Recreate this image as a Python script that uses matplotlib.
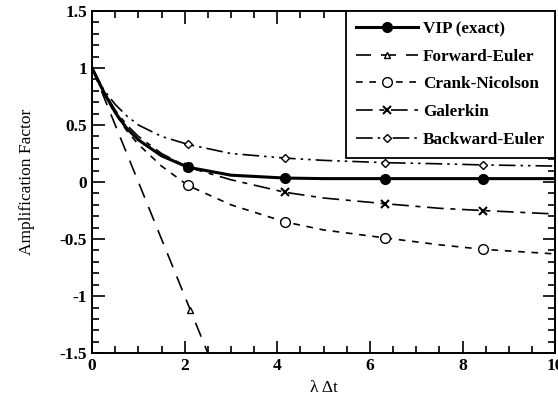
import matplotlib
matplotlib.use("Agg")
import matplotlib.pyplot as plt
from matplotlib.ticker import MultipleLocator

plt.rcParams['font.family'] = ['Liberation Serif', 'DejaVu Serif']
plt.rcParams['font.weight'] = 'bold'

# Amplification factor vs. lambda*dt for each time integrator
x_vip = [0, 0.25, 0.5, 0.75, 1.0, 1.5, 2.07, 3.0, 4.17, 5.0, 6.33, 7.5, 8.45, 10]
y_vip = [1.0, 0.79, 0.61, 0.47, 0.37, 0.23, 0.13, 0.06, 0.035, 0.03, 0.03, 0.03, 0.03, 0.03]

x_fe = [0, 2.12, 2.5]
y_fe = [1.0, -1.12, -1.5]

x_cn = [0, 0.25, 0.5, 0.75, 1.0, 1.5, 2.07, 3.0, 4.17, 5.0, 6.33, 7.5, 8.45, 10]
y_cn = [1.0, 0.78, 0.6, 0.45, 0.33, 0.14, -0.03, -0.2, -0.35, -0.42, -0.49, -0.55, -0.59, -0.63]

x_gal = [0, 0.25, 0.5, 0.75, 1.0, 1.5, 2.07, 3.0, 4.17, 5.0, 6.33, 7.5, 8.45, 10]
y_gal = [1.0, 0.8, 0.63, 0.5, 0.4, 0.25, 0.13, 0.02, -0.09, -0.14, -0.19, -0.23, -0.25, -0.28]

x_be = [0, 0.25, 0.5, 0.75, 1.0, 1.5, 2.07, 3.0, 4.17, 5.0, 6.33, 7.5, 8.45, 10]
y_be = [1.0, 0.81, 0.68, 0.58, 0.5, 0.4, 0.33, 0.25, 0.21, 0.19, 0.17, 0.16, 0.15, 0.14]

marks = [6, 8, 10, 12]

fig = plt.figure(figsize=(5.58, 4.05), dpi=100)
ax = fig.add_axes([0.165, 0.128, 0.83, 0.845])

ax.plot(x_vip, y_vip, color='black', lw=2.2, marker='o', ms=7, markevery=marks,
        label='VIP (exact)')
ax.plot(x_fe, y_fe, color='black', lw=1.2, dashes=(9, 6), marker='^', ms=5,
        mfc='white', markevery=[1], label='Forward-Euler')
ax.plot(x_cn, y_cn, color='black', lw=1.2, dashes=(4, 4), marker='o', ms=7,
        mfc='white', markevery=marks, label='Crank-Nicolson')
ax.plot(x_gal, y_gal, color='black', lw=1.2, dashes=(10, 4, 3, 4), marker='x', ms=6,
        mew=1.5, markevery=marks, label='Galerkin')
ax.plot(x_be, y_be, color='black', lw=1.2, dashes=(10, 3, 1.5, 3, 1.5, 3), marker='D',
        ms=4.5, mfc='white', markevery=marks, label='Backward-Euler')

ax.set_xlim(0, 10)
ax.set_ylim(-1.5, 1.5)
ax.xaxis.set_minor_locator(MultipleLocator(0.5))
ax.yaxis.set_minor_locator(MultipleLocator(0.1))
ax.set_xticks([0, 2, 4, 6, 8, 10])
ax.set_xticklabels(['0', '2', '4', '6', '8', '10'])
ax.set_yticks([-1.5, -1, -0.5, 0, 0.5, 1, 1.5])
ax.set_yticklabels(['-1.5', '-1', '-0.5', '0', '0.5', '1', '1.5'])
ax.tick_params(which='both', direction='in', top=True, right=True, labelsize=12.5, width=1.2)
ax.tick_params(which='major', length=9)
ax.tick_params(which='minor', length=5)
for s in ax.spines.values():
    s.set_linewidth(1.4)

ax.set_xlabel('λ Δt', fontsize=12.5, labelpad=4)
ax.set_ylabel('Amplification Factor', fontsize=12.5, labelpad=18)

leg = ax.legend(loc='upper right', fontsize=12.3, numpoints=1, handlelength=3.6,
                handletextpad=0.3, fancybox=False, framealpha=1, edgecolor='black',
                borderaxespad=0.0, labelspacing=0.68, borderpad=0.6)
leg.get_frame().set_linewidth(1.3)

fig.savefig('out.png', dpi=100)
